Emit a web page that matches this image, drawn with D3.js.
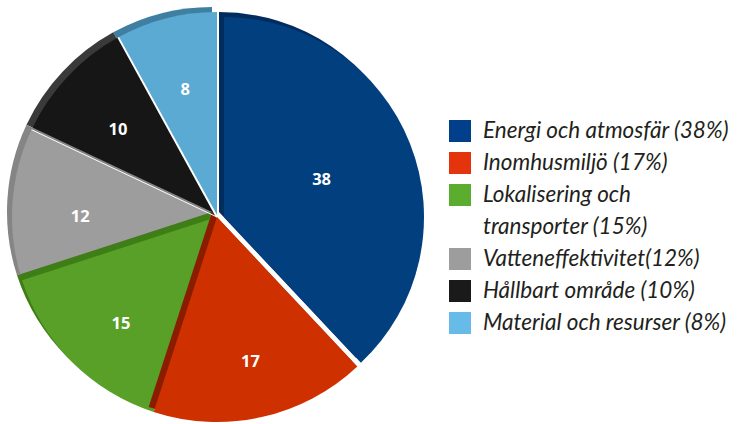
<!DOCTYPE html>
<html><head><meta charset="utf-8">
<script src="https://cdn.jsdelivr.net/npm/d3@7"></script>
<style>html,body{margin:0;padding:0;background:#fff;}svg{display:block;}</style>
</head><body>
<svg id="chart" width="737" height="424"></svg>
<script>
const categories = ["Energi och atmosfär","Inomhusmiljö","Lokalisering och transporter","Vatteneffektivitet","Hållbart område","Material och resurser"];
const values = [38,17,15,12,10,8];
const legendLines = [["Energi och atmosfär (38%)"],["Inomhusmiljö (17%)"],["Lokalisering och","transporter (15%)"],["Vatteneffektivitet(12%)"],["Hållbart område (10%)"],["Material och resurser (8%)"]];
const faceColors = ["#023f7e","#cf3000","#58a028","#9d9d9d","#161616","#5aaad4"];
const bandColors = ["#012d5e","#8a1c00","#3f7d17","#858585","#3a3a3a","#3f80a2"];
const legendColors = ["#023f8a","#e4340e","#5aad2e","#9d9d9d","#1a1a1a","#66bbe8"];

(function(){
const svg = d3.select("#chart");
const cx = 217, cy = 217, R = 205;
const pie = d3.pie().sort(null).value(d => d)(values);
const depth = [-5,-5];
const offsets = values.map((v,i) => i === 0 ? [7,0] : [0,0]);
const radii = values.map((v,i) => i === 0 ? 200 : R);

const order = d3.range(values.length).reverse();
const gPie = svg.append("g");
order.forEach(i => {
  const d = pie[i];
  const arc = d3.arc().innerRadius(0).outerRadius(radii[i]);
  const g = gPie.append("g").attr("transform", `translate(${cx+offsets[i][0]},${cy+offsets[i][1]})`);
  g.append("path").attr("d", arc(d)).attr("transform", `translate(${depth[0]},${depth[1]})`).attr("fill", bandColors[i]);
  g.append("path").attr("d", arc(d)).attr("fill", faceColors[i]);
});
[[5,2],[4,1]].forEach(([i,w]) => {
  const a = pie[i].startAngle;
  svg.append("line").attr("x1", cx).attr("y1", cy)
    .attr("x2", cx + R*Math.sin(a)).attr("y2", cy - R*Math.cos(a))
    .attr("stroke", "#fff").attr("stroke-width", w);
});
pie.forEach((d,i) => {
  const big = i === 0;
  const lr = big ? 105 : 140;
  const shift = big ? [0,0] : [3,7];
  const la = d3.arc().innerRadius(lr).outerRadius(lr);
  const [x,y] = la.centroid(d);
  svg.append("text").attr("x", cx+offsets[i][0]+shift[0]+x).attr("y", cy+offsets[i][1]+shift[1]+y)
    .attr("text-anchor","middle").attr("dominant-baseline","central")
    .attr("font-family","'Open Sans', sans-serif").attr("font-weight","bold").attr("font-size",16.5)
    .attr("fill","#fff").text(values[i]);
});
const lg = svg.append("g");
let line = 0;
const rowH = 32, legTop = 131, sqX = 449, txX = 483;
legendLines.forEach((lines,i) => {
  const yc = legTop + line*rowH;
  lg.append("rect").attr("x", sqX).attr("y", yc-11).attr("width",22).attr("height",22).attr("fill", legendColors[i]);
  lines.forEach((t,k) => {
    lg.append("text").attr("x", txX).attr("y", yc + k*rowH + 7)
      .attr("font-family","Lato, sans-serif").attr("font-style","italic").attr("font-size",22.5)
      .attr("fill","#231f20").text(t);
  });
  line += lines.length;
});
})();
</script>
</body></html>
